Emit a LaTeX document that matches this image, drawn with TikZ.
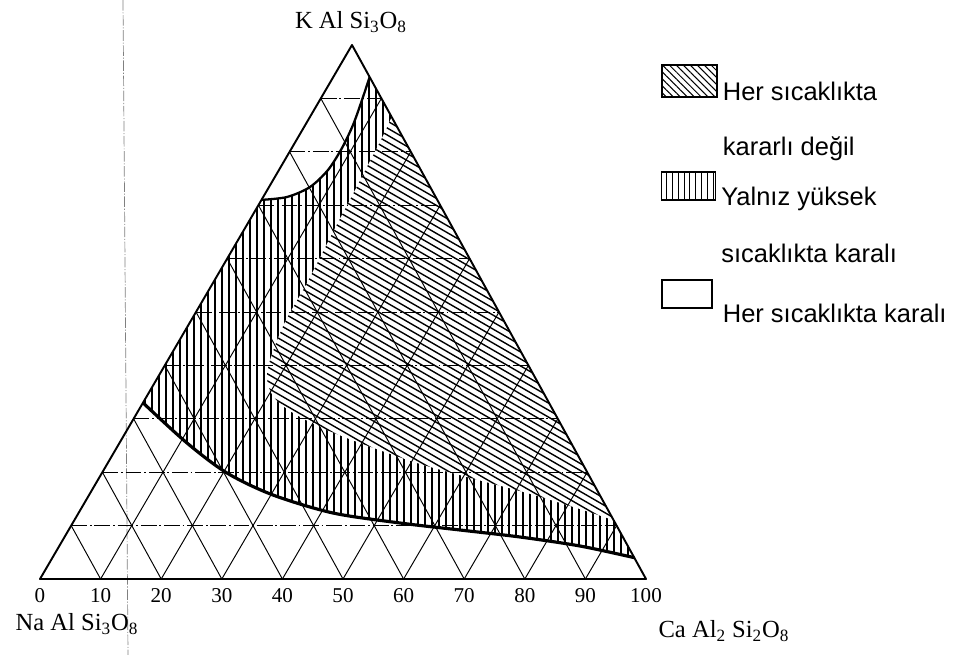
\documentclass[tikz,border=0pt]{standalone}
\usepackage{fontspec}
\setmainfont{Liberation Serif}
\newfontfamily\legendfont{Liberation Sans}
\usetikzlibrary{calc, patterns.meta}

\begin{document}
\begin{tikzpicture}[
    x=0.02cm, y=-0.02cm,
    outline/.style={line width=1.1pt, line join=round},
    gridline/.style={line width=0.55pt},
    levelline/.style={line width=0.55pt, dash pattern=on 9pt off 1.6pt on 1pt off 1.6pt},
    border/.style={line width=1.8pt},
    caparc/.style={line width=1.3pt},
    hatchline/.style={line width=0.8pt},
    legbox/.style={draw, line width=0.6pt, inner sep=0pt},
    legtext/.style={font=\legendfont\fontsize{14.5}{17}\selectfont, anchor=base west, inner sep=0pt},
    corner/.style={font=\fontsize{14}{16}\selectfont, inner sep=0pt},
    ticklbl/.style={font=\fontsize{12}{14}\selectfont, inner sep=0pt},
    foldline/.style={gray, line width=0.4pt, dash pattern=on 6pt off 1pt on 0.6pt off 1pt}
]
\useasboundingbox (0,0) rectangle (967,655);

% =============================================
% TRIANGLE CORNERS AND REGION END POINTS
% =============================================
\coordinate (na) at (40,579);
\coordinate (ca) at (646,579);
\coordinate (k) at (352,45);

\coordinate (lowL) at ($(na)!0.33!(k)$);
\coordinate (capL) at ($(na)!0.71!(k)$);
\coordinate (capR) at ($(ca)!0.94!(k)$);
\coordinate (lowR) at ($(ca)!0.04!(k)$);
\coordinate (hatR1) at ($(ca)!0.865!(k)$);
\coordinate (hatR2) at ($(ca)!0.11!(k)$);

% scanner fold line
\coordinate (foldtop) at (123,0);
\coordinate (foldbot) at (128,655);
\draw[foldline] (foldtop) -- (foldbot);

% =============================================
% HATCHED FIELDS
% =============================================
% only stable at high temperature (vertical lines)
\begin{scope}
\clip (lowL) -- (capL)
    -- plot[smooth] coordinates {(capL) (287,197) (310,187) (328,170) (342,148) (353,125) (362,100) (capR)}
    -- (lowR)
    -- plot[smooth] coordinates {(lowR) (580,546) (520,537) (460,530) (400,523) (333,513) (273,495) (227,473) (187,443) (lowL)}
    -- cycle;
\foreach \x in {138,145,...,645}
    \draw[hatchline] (\x,40) -- (\x,585);
\end{scope}

% never stable (oblique lines)
\fill[white] (hatR1) -- (hatR2)
    -- plot[smooth] coordinates {(hatR2) (583,510) (527,493) (467,477) (417,463) (360,443) (320,427) (290,411) (273,396) (267,378) (271,357) (285,322) (307,283) (333,232) (352,196) (368,165) (381,140) (hatR1)}
    -- cycle;
\begin{scope}
\clip (hatR1) -- (hatR2)
    -- plot[smooth] coordinates {(hatR2) (583,510) (527,493) (467,477) (417,463) (360,443) (320,427) (290,411) (273,396) (267,378) (271,357) (285,322) (307,283) (333,232) (352,196) (368,165) (381,140) (hatR1)}
    -- cycle;
\foreach \s in {-300,-293,...,560}
    \draw[hatchline] (240,\s) -- ++(420,242.5);
\end{scope}

% =============================================
% TERNARY GRID (10 % steps)
% =============================================
\foreach \i [evaluate=\i as \f using \i/10, evaluate=\i as \g using 1-\i/10] in {1,...,9} {
    \draw[gridline] ($(na)!\f!(ca)$) -- ($(ca)!\g!(k)$);
    \draw[gridline] ($(na)!\f!(ca)$) -- ($(na)!\f!(k)$);
    \draw[levelline] ($(na)!\f!(k)$) -- ($(ca)!\f!(k)$);
}

\draw[outline] (na) -- (ca) -- (k) -- cycle;

% field borders
\draw[border] plot[smooth] coordinates {(lowL) (187,443) (227,473) (273,495) (333,513) (400,523) (460,530) (520,537) (580,546) (lowR)};
\draw[caparc] plot[smooth] coordinates {(capL) (287,197) (310,187) (328,170) (342,148) (353,125) (362,100) (capR)};

% =============================================
% AXIS NUMBERS AND END MEMBERS
% =============================================
\foreach \v in {0,10,...,100}
    \node[ticklbl] (t\v) at ($(na)!\v/100!(ca)+(0,17)$) {\v};

\node[corner] (or) at (351,22) {K Al Si\textsubscript{3}O\textsubscript{8}};
\node[corner] (ab) at (77,624) {Na Al Si\textsubscript{3}O\textsubscript{8}};
\node[corner] (an) at (724,631) {Ca Al\textsubscript{2} Si\textsubscript{2}O\textsubscript{8}};

% =============================================
% LEGEND
% =============================================
\node[legbox, minimum width=1.1cm, minimum height=0.64cm,
      pattern={Lines[angle=-45, distance=2.8pt, line width=0.6pt]}] (keyunstable) at (689.5,81) {};
\node[legtext] (txtunstable) at ($(keyunstable.south east)+(5,3)$) {Her sıcaklıkta};
\node[legtext] (txtunstable2) at ($(txtunstable.base west)+(0,55)$) {kararlı değil};

\node[legbox, minimum width=1.08cm, minimum height=0.56cm,
      pattern={Lines[angle=90, distance=3.3pt, line width=0.6pt]}] (keyhigh) at (688.5,186) {};
\node[legtext] (txthigh) at ($(keyhigh.south east)+(5,5)$) {Yalnız yüksek};
\node[legtext] (txthigh2) at ($(txthigh.base west)+(0,57)$) {sıcaklıkta karalı};

\node[legbox, minimum width=1.0cm, minimum height=0.56cm] (keystable) at (687,294) {};
\node[legtext] (txtstable) at ($(keystable.south east)+(10,14)$) {Her sıcaklıkta karalı};

\end{tikzpicture}
\end{document}
